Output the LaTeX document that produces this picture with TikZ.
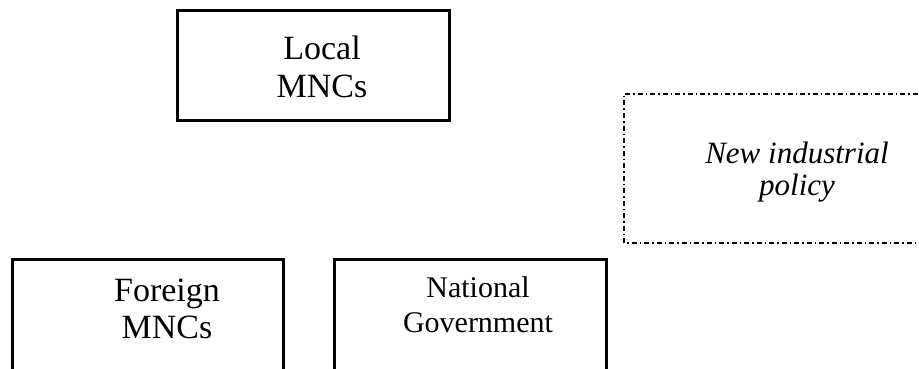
\documentclass[tikz,border=0pt]{standalone}
\usepackage{fontspec}
\setmainfont{Liberation Serif}
\begin{document}
\begin{tikzpicture}[x=1pt,y=-1pt,
  boxline/.style={line width=3pt},
  dashline/.style={line width=1.5pt, dash pattern=on 5pt off 3pt on 1.5pt off 3pt},
  lbl/.style={align=center, inner sep=0pt, anchor=base},
  big/.style={font=\fontsize{34}{37}\selectfont},
  mid/.style={font=\fontsize{30}{35}\selectfont},
  ital/.style={font=\fontsize{31}{32}\selectfont\itshape}]
\useasboundingbox (0,0) rectangle (919,369);
\begin{scope}
\clip (0,0) rectangle (919,369);
\draw[boxline] (177,11) rectangle (449,120);
\draw[boxline] (12,380) -- (12,259) -- (283,259) -- (283,380);
\draw[boxline] (334,380) -- (334,259) -- (606,259) -- (606,380);
\draw[dashline] (930,94) -- (624,94) -- (624,243) -- (930,243);
\end{scope}
\node[lbl,big] (local) at (322,97) {Local\\MNCs};
\node[lbl,big] (foreign) at (167,338) {Foreign\\MNCs};
\node[lbl,mid] (national) at (478,332) {National\\Government};
\node[lbl,ital] (policy) at (797,195) {New industrial\\policy};
\end{tikzpicture}
\end{document}
